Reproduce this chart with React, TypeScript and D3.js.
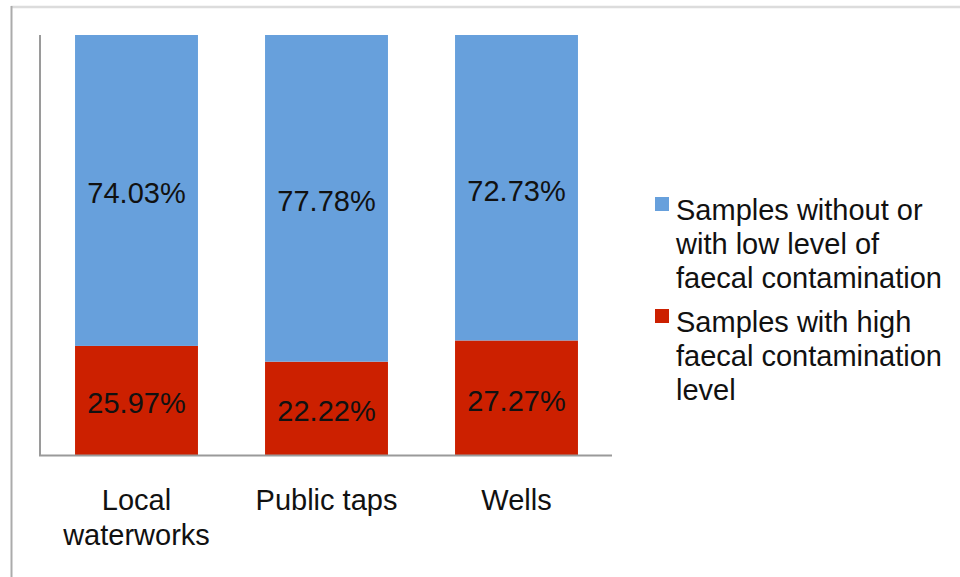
import React from "react";
import * as d3 from "d3";

const categories: string[][] = [["Local", "waterworks"], ["Public taps"], ["Wells"]];
const lowValues = [74.03, 77.78, 72.73];
const highValues = [25.97, 22.22, 27.27];
const seriesNames: string[][] = [
  ["Samples without or", "with low level of", "faecal contamination"],
  ["Samples with high", "faecal contamination", "level"],
];
const seriesColors = ["#67A0DC", "#CC2000"];

export default function App() {
  const W = 960, H = 577;
  const x = d3.scaleBand<number>().domain([0, 1, 2]).range([41.5, 611.5]).paddingInner(0.353).paddingOuter(0.1765);
  const y = d3.scaleLinear().domain([0, 100]).range([455, 35]);
  const font = "'Liberation Sans', Arial, Helvetica, sans-serif";
  const fs = 29;
  return (
    <svg width={W} height={H} style={{ position: "absolute", left: 0, top: 0, background: "#fff" }} fontFamily={font}>
      <line x1={11} x2={960} y1={7} y2={7} stroke="#dcdcdc" strokeWidth={2.5} />
      <line x1={11.5} x2={11.5} y1={6} y2={577} stroke="#ababab" strokeWidth={2} />
      {categories.map((c, i) => {
        const bx = x(i)!;
        const bw = x.bandwidth();
        const h0 = highValues[i];
        const h1 = highValues[i] + lowValues[i];
        return (
          <g key={i}>
            <rect x={bx} width={bw} y={y(h0)} height={y(0) - y(h0)} fill={seriesColors[1]} />
            <rect x={bx} width={bw} y={y(h1)} height={y(h0) - y(h1)} fill={seriesColors[0]} />
            <text x={bx + bw / 2} y={(y(h0) + y(h1)) / 2 + 13} textAnchor="middle" fontSize={fs} fill="#111">
              {lowValues[i].toFixed(2)}%
            </text>
            <text x={bx + bw / 2} y={(y(0) + y(h0)) / 2 + 13} textAnchor="middle" fontSize={fs} fill="#111">
              {highValues[i].toFixed(2)}%
            </text>
            {c.map((line, j) => (
              <text key={j} x={bx + bw / 2} y={510 + j * 35} textAnchor="middle" fontSize={fs} fill="#111">
                {line}
              </text>
            ))}
          </g>
        );
      })}
      <line x1={40} x2={40} y1={35} y2={456} stroke="#9a9a9a" strokeWidth={2} />
      <line x1={39} x2={612} y1={455.5} y2={455.5} stroke="#9a9a9a" strokeWidth={2} />
      {seriesNames.map((lines, s) => {
        const top = 210 + s * 112;
        return (
          <g key={s}>
            <rect x={655} y={top - 13} width={14} height={14} fill={seriesColors[s]} />
            {lines.map((l, j) => (
              <text key={j} x={676} y={top + 10 + j * 34} fontSize={fs} fill="#111">
                {l}
              </text>
            ))}
          </g>
        );
      })}
    </svg>
  );
}
